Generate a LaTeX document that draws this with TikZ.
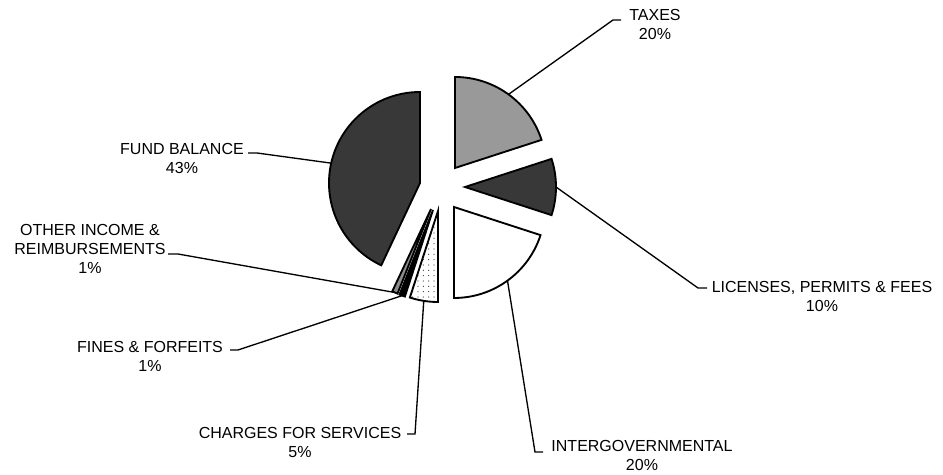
\documentclass[tikz,border=0pt]{standalone}
\usepackage{fontspec}
\setmainfont{Liberation Sans}
\usetikzlibrary{patterns.meta,calc}
\tikzdeclarepattern{
  name=sparsedots,
  bottom left={(-1pt,-1pt)},
  top right={(4pt,4pt)},
  tile size={(4pt,4pt)},
  code={\pgfpathcircle{\pgfpoint{1.5pt}{1.5pt}}{0.45pt}\pgfusepath{fill}}
}
\begin{document}
\begin{tikzpicture}[x=0.75pt,y=0.75pt,
  slicebox/.style={draw=black,line width=1.4pt,line join=miter},
  leader/.style={draw=black,line width=1pt},
  lbl/.style={align=center,inner sep=0pt,font=\fontsize{12}{14.25}\selectfont}]
\useasboundingbox (0,0) rectangle (943,475);
% apexes
\coordinate (tx) at (455,307);
\coordinate (li) at (465,288);
\coordinate (ig) at (454,268);
\coordinate (ch) at (438,264);
\coordinate (fi) at (433,265);
\coordinate (ot) at (431,266);
\coordinate (fb) at (420,292);
% slices
\draw[slicebox,fill=black!40] (tx) -- ++(18:91) arc[start angle=18,end angle=90,radius=91] -- cycle;
\draw[slicebox,fill=black!78] (li) -- ++(-18:91) arc[start angle=-18,end angle=18,radius=91] -- cycle;
\draw[slicebox,fill=white] (ig) -- ++(-90:91) arc[start angle=-90,end angle=-18,radius=91] -- cycle;
\draw[slicebox,preaction={fill=white},pattern=sparsedots,pattern color=black!75] (ch) -- ++(-108:91) arc[start angle=-108,end angle=-90,radius=91] -- cycle;
\draw[slicebox,fill=black] (fi) -- ++(-111.6:91) arc[start angle=-111.6,end angle=-108,radius=91] -- cycle;
\draw[slicebox,fill=black!45] (ot) -- ++(-115.2:91) arc[start angle=-115.2,end angle=-111.6,radius=91] -- cycle;
\draw[slicebox,fill=black!78] (fb) -- ++(90:91) arc[start angle=90,end angle=244.8,radius=91] -- cycle;
% leader start points on the slices
\coordinate (txs) at ($(tx)+(54:91)$);
\coordinate (lis) at ($(li)+(0:91)$);
\coordinate (igs) at ($(ig)+(-54:91)$);
\coordinate (chs) at ($(ch)+(-99:91)$);
\coordinate (fis) at ($(fi)+(-109.8:91)$);
\coordinate (ots) at ($(ot)+(-113.4:91)$);
\coordinate (fbs) at ($(fb)+(167.4:91)$);
% elbows and ends
\coordinate (txk) at (613,455); \coordinate (txe) at (621,455);
\coordinate (lik) at (698,187); \coordinate (lie) at (707,187);
\coordinate (igk) at (535,23);  \coordinate (ige) at (543,23);
\coordinate (chk) at (415,41);  \coordinate (che) at (407,41);
\coordinate (fik) at (238,125); \coordinate (fie) at (230,125);
\coordinate (otk) at (178,221); \coordinate (ote) at (168,221);
\coordinate (fbk) at (257,322); \coordinate (fbe) at (248,322);
% labels
\node[lbl] (taxes) at (655,451) {TAXES\\20\%};
\node[lbl] (lic) at (822,179) {LICENSES, PERMITS \& FEES\\10\%};
\node[lbl] (inter) at (642,20) {INTERGOVERNMENTAL\\20\%};
\node[lbl] (charges) at (300,32.5) {CHARGES FOR SERVICES\\5\%};
\node[lbl] (fines) at (150,119) {FINES \& FORFEITS\\1\%};
\node[lbl] (other) at (90,226) {OTHER INCOME \&\\REIMBURSEMENTS\\1\%};
\node[lbl] (fund) at (182,317) {FUND BALANCE\\43\%};
% leaders
\draw[leader] (txs) -- (txk) -- (txe);
\draw[leader] (lis) -- (lik) -- (lie);
\draw[leader] (igs) -- (igk) -- (ige);
\draw[leader] (chs) -- (chk) -- (che);
\draw[leader] (fis) -- (fik) -- (fie);
\draw[leader] (ots) -- (otk) -- (ote);
\draw[leader] (fbs) -- (fbk) -- (fbe);
\end{tikzpicture}
\end{document}
